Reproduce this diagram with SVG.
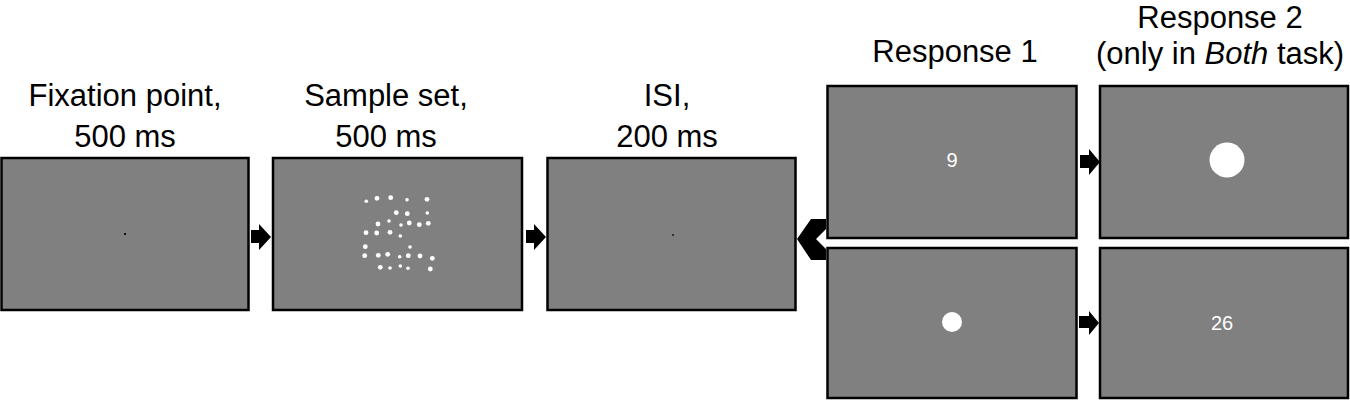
<svg xmlns="http://www.w3.org/2000/svg" width="1350" height="401" viewBox="0 0 1350 401">
<style>
.scr{fill:#808080;stroke:#000;stroke-width:2.5}
.lbl{font-family:"Liberation Sans",Arial,sans-serif;font-size:31px;fill:#000;text-anchor:middle}
.num{font-family:"Liberation Sans",Arial,sans-serif;font-size:20px;fill:#fff;text-anchor:middle}
.dot{fill:#fff}
.arr{fill:#000}
</style>
<rect width="1350" height="401" fill="#fff"/>
<g id="fixation">
<rect class="scr" x="1.5" y="158" width="247" height="152"/>
<rect x="124" y="233" width="2" height="2" fill="#111"/>
<text class="lbl" x="125" y="106">Fixation point,</text>
<text class="lbl" x="125" y="147">500 ms</text>
</g>
<g id="sample">
<rect class="scr" x="273" y="158" width="249" height="152"/>
<text class="lbl" x="386" y="106">Sample set,</text>
<text class="lbl" x="386" y="147">500 ms</text>
<g class="dot">
<circle cx="377" cy="198.3" r="2.4"/><circle cx="390.7" cy="197.7" r="2.4"/><circle cx="427" cy="199.3" r="2.4"/>
<circle cx="396.3" cy="212.7" r="2.4"/><circle cx="407.3" cy="213.7" r="2.4"/>
<circle cx="378" cy="224" r="2.4"/><circle cx="409.3" cy="223" r="2.4"/><circle cx="419.3" cy="224.7" r="2.4"/><circle cx="428.3" cy="223.3" r="2.4"/>
<circle cx="366" cy="232.7" r="2.4"/><circle cx="376.7" cy="233" r="2.4"/><circle cx="390" cy="232.3" r="2.4"/>
<circle cx="365.3" cy="246.7" r="2.4"/>
<circle cx="364.7" cy="255.7" r="2.4"/><circle cx="378.3" cy="255.3" r="2.4"/><circle cx="387.7" cy="254.3" r="2.4"/><circle cx="408.3" cy="255.7" r="2.4"/><circle cx="420" cy="256" r="2.4"/><circle cx="432.3" cy="258.3" r="2.4"/>
<circle cx="380.3" cy="267.3" r="2.4"/><circle cx="430.3" cy="269" r="2.4"/>
<circle cx="366.3" cy="201.3" r="1.8"/><circle cx="407" cy="199.7" r="1.8"/><circle cx="427.3" cy="213" r="1.8"/>
<circle cx="389" cy="221" r="1.8"/><circle cx="401" cy="225" r="1.8"/><circle cx="400.3" cy="236" r="1.8"/>
<circle cx="410" cy="247" r="1.8"/><circle cx="399.7" cy="256.7" r="1.8"/>
<circle cx="390" cy="268" r="1.8"/><circle cx="400.3" cy="266" r="1.8"/><circle cx="408" cy="268.3" r="1.8"/>
</g>
</g>
<g id="isi">
<rect class="scr" x="547.5" y="158" width="248" height="152"/>
<rect x="672" y="234" width="2" height="2" fill="#333"/>
<text class="lbl" x="667" y="106">ISI,</text>
<text class="lbl" x="667" y="147">200 ms</text>
</g>
<g id="response1-number">
<rect class="scr" x="827.5" y="86" width="249" height="152"/>
<text class="num" x="952" y="167">9</text>
<text class="lbl" x="955" y="62">Response 1</text>
</g>
<g id="response2-circle">
<rect class="scr" x="1100" y="86" width="248" height="152"/>
<circle cx="1227" cy="160" r="17.5" fill="#fff"/>
<text class="lbl" x="1220" y="28">Response 2</text>
<text class="lbl" x="1220" y="64">(only in <tspan font-style="italic">Both</tspan> task)</text>
</g>
<g id="response1-circle">
<rect class="scr" x="827.5" y="248" width="249" height="150"/>
<circle cx="952" cy="322" r="10" fill="#fff"/>
</g>
<g id="response2-number">
<rect class="scr" x="1100" y="248" width="248" height="150"/>
<text class="num" x="1222" y="330">26</text>
</g>
<g id="connectors" class="arr">
<polygon points="251,230 259,230 259,224 271,237 259,250 259,243 251,243"/>
<polygon points="526,230 534,230 534,224 546,237 534,250 534,243 526,243"/>
<polygon points="797,239 811,219 826,219 826,229 816,239 826,249 826,260 811,260"/>
<polygon points="1080,155 1089,155 1089,149 1100,162 1089,175 1089,168 1080,168"/>
<polygon points="1079,316 1089,316 1089,311 1099,323 1089,335 1089,328 1079,328"/>
</g>
</svg>
